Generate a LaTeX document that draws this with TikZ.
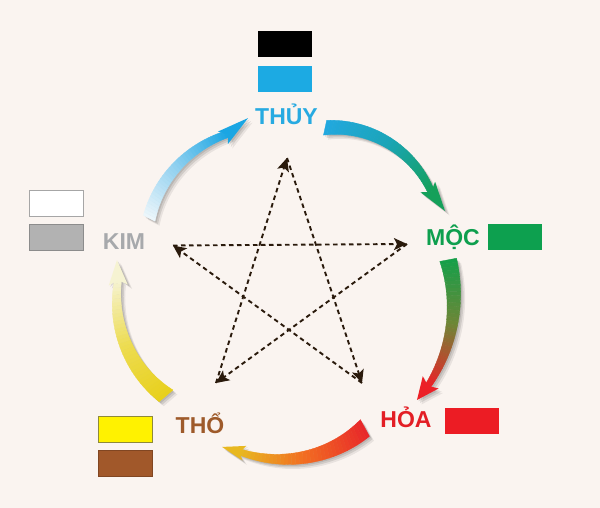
\documentclass[tikz,border=0pt]{standalone}
\usepackage{fontspec}
\setmainfont{Liberation Sans}
\usetikzlibrary{arrows.meta}
\definecolor{bg}{HTML}{FAF4F0}
\definecolor{cthuy}{HTML}{27AAE1}
\definecolor{cmoc}{HTML}{0E9F4E}
\definecolor{choa}{HTML}{E31E25}
\definecolor{ctho}{HTML}{9E5A2A}
\definecolor{ckim}{HTML}{A7A9AC}
\definecolor{sblue}{HTML}{1CAAE3}
\definecolor{sgreen}{HTML}{0DA04F}
\definecolor{sred}{HTML}{EC1C24}
\definecolor{syellow}{HTML}{FFF200}
\definecolor{sbrown}{HTML}{A1582A}
\definecolor{sgray}{HTML}{B2B2B2}
\definecolor{starc}{HTML}{2A1A0C}
% arc colours
\definecolor{aoneA}{HTML}{22A8E0}
\definecolor{aoneM}{HTML}{1AA5B8}
\definecolor{aoneB}{HTML}{14A05A}
\definecolor{atwoA}{HTML}{13A04A}
\definecolor{atwoM}{HTML}{6E8636}
\definecolor{atwoB}{HTML}{EC2027}
\definecolor{athrA}{HTML}{E8262A}
\definecolor{athrM}{HTML}{F26A22}
\definecolor{athrB}{HTML}{E8B820}
\definecolor{afouA}{HTML}{E8D01A}
\definecolor{afouM}{HTML}{EDDC50}
\definecolor{afouB}{HTML}{F6F3D2}
\definecolor{afivA}{HTML}{EEF7FB}
\definecolor{afivM}{HTML}{8FD0F0}
\definecolor{afivB}{HTML}{1AA6E3}

\pgfkeys{/flow/.is family, /flow,
  a0/.store in=\FlAa, a1/.store in=\FlAb,
  r0/.store in=\FlRa, r1/.store in=\FlRb,
  bulge/.store in=\FlBu,
  w0/.store in=\FlWa, w1/.store in=\FlWb,
  ta/.store in=\FlTa, tr/.store in=\FlTr, h/.store in=\FlH,
  ca/.store in=\FlCa, cm/.store in=\FlCm, cb/.store in=\FlCb}

\tikzset{
  declare function={
    flang(\x)=\FlAa+(\FlAb-\FlAa)*\x;
    flrad(\x)=\FlRa+(\FlRb-\FlRa)*\x+4*\FlBu*\x*(1-\x);
    flwid(\x)=\FlWa+(\FlWb-\FlWa)*\x;
  },
  lab/.style={font=\fontsize{23}{23}\selectfont\bfseries, inner sep=0pt, anchor=base},
  swatch/.style={minimum width=54, minimum height=26, inner sep=0pt},
  starline/.style={draw=starc, line width=1.9pt, dash pattern=on 4.5pt off 3.5pt,
    -{Stealth[length=13pt, width=12pt, inset=3pt]}},
}

\newcommand\flowarrow[1]{%
  \pgfkeys{/flow,#1}%
  \pgfmathsetmacro\FlBx{\FlRb*cos(\FlAb)}%
  \pgfmathsetmacro\FlBy{\FlRb*sin(\FlAb)}%
  \pgfmathsetmacro\FlTx{\FlTr*cos(\FlTa)}%
  \pgfmathsetmacro\FlTy{\FlTr*sin(\FlTa)}%
  \pgfmathsetmacro\FlL{veclen(\FlTx-\FlBx,\FlTy-\FlBy)}%
  \pgfmathsetmacro\FlDx{(\FlTx-\FlBx)/\FlL}%
  \pgfmathsetmacro\FlDy{(\FlTy-\FlBy)/\FlL}%
  \pgfmathsetmacro\FlNx{0-(\FlDy)}%
  \pgfmathsetmacro\FlNy{\FlDx}%
  \pgfmathsetmacro\FlSg{((\FlNx)*(\FlBx)+(\FlNy)*(\FlBy))>0 ? 1 : -1}%
  \pgfmathsetmacro\FlWox{\FlBx-0.25*\FlL*\FlDx+\FlSg*\FlH*\FlNx}%
  \pgfmathsetmacro\FlWoy{\FlBy-0.25*\FlL*\FlDy+\FlSg*\FlH*\FlNy}%
  \pgfmathsetmacro\FlWix{\FlBx-0.25*\FlL*\FlDx-\FlSg*\FlH*\FlNx}%
  \pgfmathsetmacro\FlWiy{\FlBy-0.25*\FlL*\FlDy-\FlSg*\FlH*\FlNy}%
  \begin{scope}[shift={(290,290)}]
    % shadow
    \foreach \s/\o in {1.5/0.10, 3/0.10, 4.5/0.07}{%
      \fill[black, opacity=\o, shift={(\s,\s)}]
        plot[domain=0:1, samples=30] ({flang(\x)}:{flrad(\x)+flwid(\x)/2})
        -- (\FlWox,\FlWoy) -- (\FlTx,\FlTy) -- (\FlWix,\FlWiy)
        -- plot[domain=1:0, samples=30] ({flang(\x)}:{flrad(\x)-flwid(\x)/2})
        -- cycle;
    }
    % coloured body
    \foreach \i in {0,...,35}{%
      \pgfmathsetmacro\sga{\i/36}%
      \pgfmathsetmacro\sgb{(\i+1)/36}%
      \pgfmathsetmacro\sgm{(\i+0.5)/36}%
      \ifnum\i<18
        \pgfmathtruncatemacro\sgp{100-200*\sgm}%
        \colorlet{flc}{\FlCa!\sgp!\FlCm}%
      \else
        \pgfmathtruncatemacro\sgp{200-200*\sgm}%
        \colorlet{flc}{\FlCm!\sgp!\FlCb}%
      \fi
      \fill[flc, draw=flc, line width=0.35]
        ({flang(\sga)}:{flrad(\sga)+flwid(\sga)/2}) --
        ({flang(\sgb)}:{flrad(\sgb)+flwid(\sgb)/2}) --
        ({flang(\sgb)}:{flrad(\sgb)-flwid(\sgb)/2}) --
        ({flang(\sga)}:{flrad(\sga)-flwid(\sga)/2}) -- cycle;
    }
    % arrow head
    \fill[\FlCb] (\FlWox,\FlWoy) -- (\FlTx,\FlTy) -- (\FlWix,\FlWiy) -- (\FlBx,\FlBy) -- cycle;
  \end{scope}%
}

\begin{document}
\begin{tikzpicture}[x=1pt, y=-1pt]
\fill[bg] (0,0) rectangle (600,508);
\useasboundingbox (0,0) rectangle (600,508);

% generating cycle arrows
\flowarrow{a0=-77.8, a1=-34.8, r0=166, r1=172, bulge=8, w0=15, w1=7,
  ta=-27, tr=174, h=9, ca=aoneA, cm=aoneM, cb=aoneB}
\flowarrow{a0=-10.8, a1=34.8, r0=161, r1=168, bulge=1, w0=17, w1=6,
  ta=40.9, tr=168, h=10, ca=atwoA, cm=atwoM, cb=atwoB}
\flowarrow{a0=61.5, a1=107.2, r0=157, r1=169.5, bulge=4.5, w0=19, w1=6,
  ta=113.4, tr=171, h=7.5, ca=athrA, cm=athrM, cb=athrB}
\flowarrow{a0=139.5, a1=183.3, r0=163, r1=172.3, bulge=5.5, w0=18, w1=7,
  ta=189.8, tr=175.6, h=9.5, ca=afouA, cm=afouM, cb=afouB}
\flowarrow{a0=207, a1=248.3, r0=158, r1=168, bulge=4.5, w0=13, w1=7,
  ta=256.3, tr=177, h=8, ca=afivA, cm=afivM, cb=afivB}

% star (controlling cycle)
\coordinate (sT) at (287,158);
\coordinate (sR) at (407,244);
\coordinate (sL) at (173,245.5);
\coordinate (sBL) at (216,383);
\coordinate (sBR) at (362,383);
\draw[starline] (sL) -- (sR);
\draw[starline] (sR) -- (sBL);
\draw[starline] (sBL) -- (sT);
\draw[starline] (sT) -- (sBR);
\draw[starline] (sBR) -- (sL);

% labels
\node[lab, text=cthuy] (thuy) at (286.5,125) {THỦY};
\node[lab, text=ckim] (kim) at (124,249) {KIM};
\node[lab, text=cmoc] (moc) at (453,245) {MỘC};
\node[lab, text=choa] (hoa) at (406,427) {HỎA};
\node[lab, text=ctho] (tho) at (200,433) {THỔ};

% colour swatches
\node[swatch, fill=black] (swblack) at (285,44.5) {};
\node[swatch, fill=sblue] (swblue) at (285,79) {};
\node[swatch, fill=white, draw=gray!70, line width=1] (swwhite) at (56.5,203.5) {};
\node[swatch, fill=sgray, draw=gray!90, line width=1] (swgray) at (56.5,237) {};
\node[swatch, fill=sgreen] (swgreen) at (515,237) {};
\node[swatch, fill=sred] (swred) at (471.5,421) {};
\node[swatch, fill=syellow, draw=olive!60!gray, line width=0.8] (swyellow) at (125,429) {};
\node[swatch, fill=sbrown, draw=sbrown!80!black, line width=0.6] (swbrown) at (125,463.5) {};
\end{tikzpicture}
\end{document}
